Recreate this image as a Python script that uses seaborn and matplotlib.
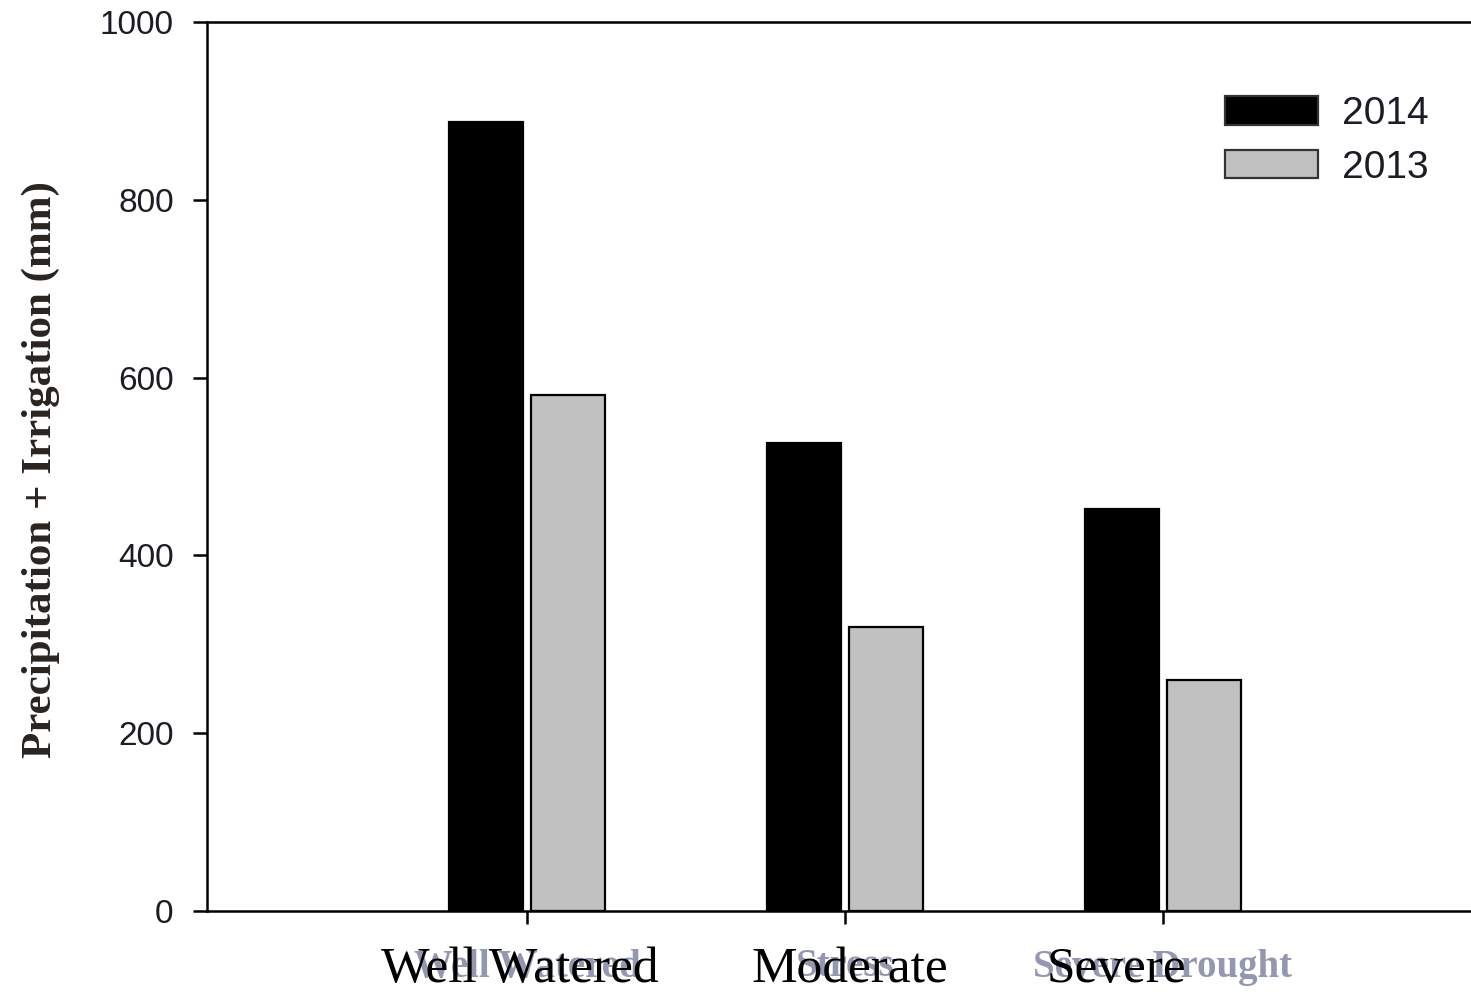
import matplotlib
matplotlib.use("Agg")
import matplotlib.pyplot as plt
import matplotlib.transforms as mtransforms
import seaborn as sns
import pandas as pd

# Water received per treatment (mm)
treatments = ["Well Watered", "Stress", "Severe Drought"]
years = ["2014", "2013"]
water_2014 = [887, 526, 452]
water_2013 = [580, 319, 260]

# Treatment names printed over the axis labels
overlay_labels = ["Well Watered", "Moderate", "Severe"]
overlay_x = [-0.022, 1.016, 1.855]

df = pd.DataFrame({
    "treatment": treatments * 2,
    "year": [years[0]] * 3 + [years[1]] * 3,
    "water": water_2014 + water_2013,
})

sns.set_style("white")
plt.rcParams["font.family"] = ["Liberation Sans", "DejaVu Sans"]

fig = plt.figure(figsize=(14.71, 9.92), dpi=100)
ax = fig.add_axes([207 / 1471, 81 / 992, 1 - 207 / 1471, 889 / 992])

sns.barplot(
    data=df, x="treatment", y="water", hue="year",
    order=treatments, hue_order=years,
    palette={"2014": "black", "2013": "#c0c0c0"},
    width=0.516, gap=0.1, edgecolor="black", linewidth=1.6,
    ax=ax, legend=True,
)

ax.set_xlim(-1.006, 2.969)
ax.set_ylim(0, 1000)
ax.set_yticks(range(0, 1001, 200))

for side in ["left", "top", "bottom"]:
    ax.spines[side].set_visible(True)
    ax.spines[side].set_linewidth(1.8)
    ax.spines[side].set_color("black")
ax.spines["right"].set_visible(False)

ax.tick_params(axis="y", direction="out", length=10, width=1.8, pad=14,
               labelsize=24, labelcolor="#1c1c24", left=True, color="black")
ax.tick_params(axis="x", direction="out", length=9, width=1.8, pad=18,
               labelsize=28, bottom=True, color="black")
for lbl in ax.get_xticklabels():
    lbl.set_family(["Liberation Serif", "DejaVu Serif"])
    lbl.set_fontweight("bold")
    lbl.set_color("#9398b0")

ax.set_xlabel("")
ax.set_ylabel("Precipitation + Irrigation (mm)", fontsize=31, fontweight="bold",
              family=["Liberation Serif", "DejaVu Serif"], color="#2a2420")
ax.yaxis.set_label_coords(-0.116, 0.497)

trans = mtransforms.blended_transform_factory(ax.transData, ax.transAxes)
for xpos, text in zip(overlay_x, overlay_labels):
    ax.text(xpos, -0.080, text, transform=trans, ha="center", va="baseline",
            fontsize=37, family=["Liberation Serif", "DejaVu Serif"],
            color="black", clip_on=False)

leg = ax.legend(loc="upper left", bbox_to_anchor=(1225 / 1471, 1 - 96 / 992),
                bbox_transform=fig.transFigure, frameon=False, fontsize=28,
                handlelength=2.4, handleheight=0.75, handletextpad=0.6,
                labelspacing=0.45, borderpad=0, borderaxespad=0)
for t in leg.get_texts():
    t.set_color("#1c1c24")
for h in leg.legend_handles:
    h.set_edgecolor("#333333")
    h.set_linewidth(1.6)

fig.savefig("out.png", dpi=100)
